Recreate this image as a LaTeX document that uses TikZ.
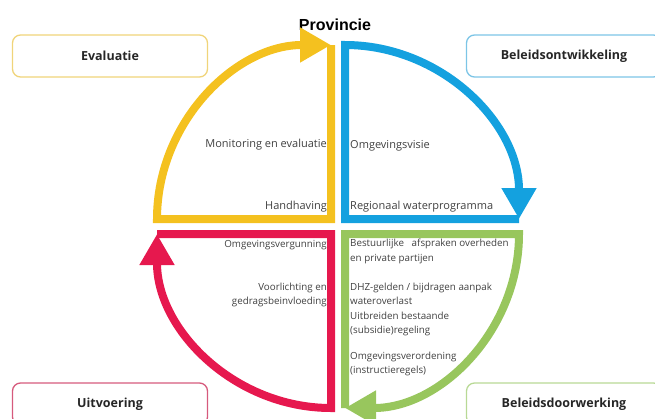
\documentclass[tikz,border=0pt]{standalone}
\usepackage{fontspec}
\setmainfont{Open Sans}
\newfontfamily\provfont{Liberation Sans}
\usetikzlibrary{arrows.meta}
\definecolor{geel}{HTML}{F4C11F}
\definecolor{blauw}{HTML}{14A1DF}
\definecolor{rood}{HTML}{E6184E}
\definecolor{groen}{HTML}{98C65D}
\definecolor{geelrand}{HTML}{F0D47A}
\definecolor{blauwrand}{HTML}{7CC5E6}
\definecolor{roodrand}{HTML}{D65A7C}
\definecolor{groenrand}{HTML}{B8D995}
\definecolor{tekst}{HTML}{404040}
\begin{document}
\begin{tikzpicture}[x=1pt,y=-1pt,
  kwart/.style={line width=8pt, line join=miter, -{Triangle[length=31pt,width=33pt]}},
  fase/.style={draw, rounded corners=8pt, line width=1.3pt, minimum width=195pt,
    minimum height=42pt, font=\bfseries\fontsize{12.5}{14}\selectfont, text=black!85},
  groot/.style={inner sep=0pt, font=\fontsize{11}{13}\selectfont, text=tekst},
  klein/.style={inner sep=0pt, font=\fontsize{9.8}{14.3}\selectfont, text=tekst}]

\useasboundingbox (0,0) rectangle (655,418);
\clip (0,0) rectangle (655,418);

% middelpunten van de kwarten
\coordinate (geelM) at (331,219);
\coordinate (blauwM) at (345,219);
\coordinate (groenM) at (345,234);
\coordinate (roodM) at (331,234);

\node[font=\provfont\bfseries\fontsize{16}{18}\selectfont] (provincie) at (335,25) {Provincie};

\draw[kwart, geel] (geelM) ++(0,-174) -- (geelM) -- ++(-174,0)
  arc[start angle=180, end angle=270, radius=174];
\draw[kwart, blauw] (blauwM) ++(174,0) -- (blauwM) -- ++(0,-174)
  arc[start angle=270, end angle=360, radius=174];
\draw[kwart, groen] (groenM) ++(0,174) -- (groenM) -- ++(174,0)
  arc[start angle=0, end angle=90, radius=174];
\draw[kwart, rood] (roodM) ++(-174,0) -- (roodM) -- ++(0,174)
  arc[start angle=90, end angle=180, radius=174];

\node[fase, draw=geelrand] (evaluatie) at (110,56) {Evaluatie};
\node[fase, draw=blauwrand] (ontwikkeling) at (564,56) {Beleidsontwikkeling};
\node[fase, draw=roodrand] (uitvoering) at (110,404) {Uitvoering};
\node[fase, draw=groenrand] (doorwerking) at (564,404) {Beleidsdoorwerking};

\node[groot, anchor=east] (monitoring) at (327,145) {Monitoring en evaluatie};
\node[groot, anchor=east] (handhaving) at (327,207) {Handhaving};
\node[groot, anchor=west] (visie) at (350,146) {Omgevingsvisie};
\node[groot, anchor=west] (waterprog) at (350,207) {Regionaal waterprogramma};

\node[klein, anchor=east] (vergunning) at (327,245) {Omgevingsvergunning};
\node[klein, anchor=north east, align=right] (voorlichting) at (327,283)
  {Voorlichting en\\gedragsbeinvloeding};

\node[klein, anchor=north west, align=left] (afspraken) at (350,239)
  {Bestuurlijke\ \ \ afspraken overheden\\en private partijen};
\node[klein, anchor=north west, align=left] (gelden) at (350,283)
  {DHZ-gelden / bijdragen aanpak\\wateroverlast\\Uitbreiden bestaande\\(subsidie)regeling};
\node[klein, anchor=north west, align=left] (verordening) at (350,352)
  {Omgevingsverordening\\(instructieregels)};

\end{tikzpicture}
\end{document}
